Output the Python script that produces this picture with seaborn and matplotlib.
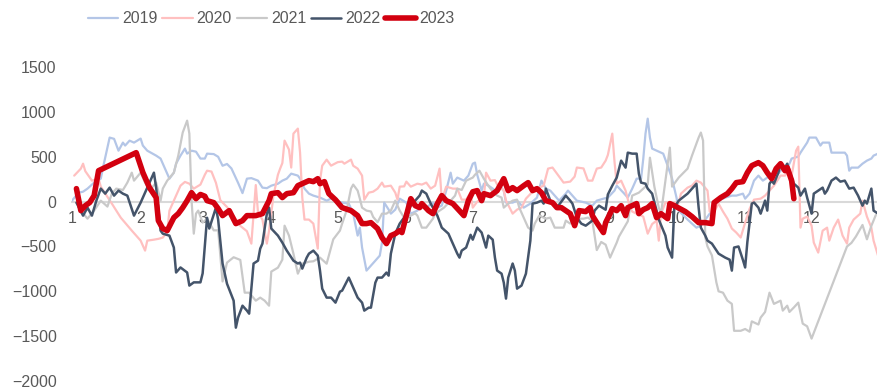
import matplotlib
matplotlib.use('Agg')
import matplotlib.pyplot as plt
import seaborn as sns

# day of year (0 = 1 Jan) and value, one pair of lists per year
days19 = [0, 3, 5, 7, 10, 13, 14, 16, 17, 19, 21, 23, 24, 26, 28, 31, 32, 34, 38, 40,
          41, 43, 44, 46, 47, 49, 51, 52, 54, 56, 58, 60, 61, 64, 66, 68, 70, 72, 75, 77,
          79, 81, 84, 86, 88, 90, 93, 95, 97, 99, 102, 103, 105, 107, 109, 112, 115, 117, 119, 122,
          125, 127, 129, 130, 131, 133, 135, 137, 139, 140, 141, 143, 144, 146, 148, 151, 153, 156, 158, 160,
          163, 165, 167, 169, 171, 172, 174, 177, 179, 181, 182, 183, 185, 186, 188, 190, 192, 193, 195, 196,
          199, 201, 204, 207, 210, 212, 214, 216, 218, 220, 223, 224, 226, 228, 232, 235, 237, 240, 242, 245,
          246, 249, 251, 253, 255, 257, 258, 259, 260, 261, 262, 265, 267, 269, 271, 273, 274, 278, 280, 282,
          284, 286, 288, 290, 292, 295, 298, 300, 303, 304, 306, 308, 310, 312, 314, 316, 319, 320, 323, 324,
          325, 328, 329, 332, 333, 336, 338, 339, 342, 343, 346, 349, 350, 351, 352, 355, 357, 359, 361, 362,
          364]
vals19 = [11, 100, 111, 145, 212, 256, 379, 602, 714, 700, 568, 658, 625, 680, 658, 703, 625, 568, 513, 480,
          424, 312, 256, 323, 424, 513, 591, 535, 568, 557, 480, 480, 535, 530, 500, 400, 420, 370, 210, 95,
          256, 262, 234, 156, 150, 178, 200, 234, 256, 312, 290, 256, 145, 89, 67, 45, 11, 33, 11, -11,
          -22, -134, -379, -290, -512, -769, -714, -658, -602, -457, -11, -89, -134, -89, 33, -11, -134, -100, -22, -67,
          -11, -67, -45, 123, 323, 200, 268, 234, 290, 423, 435, 300, 123, 200, 180, 145, 111, 190, 120, -11,
          -11, 11, -67, -22, 45, 234, 145, 123, 67, 11, 89, 123, 67, 11, -11, -45, 11, 33, 45, 123,
          178, 100, 45, 145, 256, 256, 480, 758, 925, 714, 591, 557, 535, 401, 256, 45, -100, -200, -245, -290,
          -268, -200, -134, -89, 11, 45, 67, 67, 89, 33, 89, 234, 290, 234, 268, 290, 312, 345, 379, 423,
          480, 502, 546, 658, 714, 714, 625, 658, 658, 546, 546, 546, 513, 345, 379, 379, 423, 457, 480, 513,
          535]

days20 = [1, 4, 5, 6, 9, 12, 13, 18, 22, 27, 31, 33, 34, 37, 39, 41, 43, 44, 46, 49,
          51, 53, 55, 58, 60, 61, 63, 65, 67, 70, 73, 76, 79, 81, 83, 84, 86, 88, 89, 91,
          93, 94, 95, 96, 98, 99, 100, 102, 103, 104, 105, 107, 109, 111, 112, 113, 115, 117, 120, 122,
          123, 126, 127, 129, 131, 132, 134, 136, 138, 140, 141, 144, 146, 147, 148, 150, 151, 153, 156, 158,
          160, 162, 164, 166, 167, 169, 172, 174, 176, 178, 180, 181, 183, 186, 187, 189, 191, 192, 195, 196,
          199, 201, 203, 205, 208, 210, 213, 215, 217, 219, 222, 225, 227, 228, 231, 233, 235, 237, 239, 241,
          242, 244, 245, 246, 248, 250, 252, 253, 255, 258, 260, 262, 264, 265, 266, 268, 272, 274, 275, 278,
          280, 282, 284, 287, 288, 290, 292, 294, 296, 298, 300, 302, 304, 306, 308, 311, 313, 317, 320, 322,
          324, 325, 327, 328, 329, 330, 332, 334, 335, 337, 339, 341, 342, 344, 346, 348, 350, 351, 353, 356,
          357, 359, 361, 362, 364]
vals20 = [290, 368, 423, 340, 234, 256, 167, -22, -178, -323, -435, -546, -435, -424, -415, -401, -340, -100, 11, 178,
          220, 200, 145, 190, 300, 345, 335, 210, 15, -60, -160, -270, -330, -468, 185, -120, -200, -468, -323, 70,
          300, 368, 430, 680, 580, 380, 758, 814, 546, 45, -200, -200, -245, -524, 234, 401, 468, 401, 440, 446,
          423, 468, 400, 368, 290, 22, 100, 111, 145, 212, 167, 178, 100, 22, 167, 170, 223, 167, 200, 190,
          212, 145, 178, 368, 22, 167, 145, 145, 22, 22, 100, -67, 0, 45, 323, 234, 240, 190, 123, 11,
          -134, -89, -67, 33, 111, 145, 178, 368, 380, 312, 212, 223, 279, 380, 370, 234, 234, 368, 380, 457,
          520, 758, 446, 200, 234, 123, -67, -111, -134, -167, -357, -250, -212, -435, -134, -11, -11, -11, 89, 156,
          178, 234, 212, 123, -111, -111, -22, -111, -190, -300, -345, -400, -234, -80, 22, 33, 67, 178, 290, 290,
          368, 290, 568, 613, -290, -190, -167, -268, -457, -568, -324, -290, -435, -290, -200, -379, -468, -290, -200, -134,
          11, -167, -290, -435, -600]

days21 = [3, 6, 7, 10, 13, 16, 18, 20, 23, 25, 27, 28, 31, 33, 35, 38, 40, 41, 43, 46,
          48, 50, 52, 53, 54, 55, 56, 57, 59, 61, 64, 66, 68, 70, 73, 76, 78, 80, 83, 85,
          87, 89, 90, 93, 95, 96, 98, 100, 102, 104, 107, 109, 112, 115, 118, 121, 122, 124, 126, 127,
          129, 130, 131, 133, 135, 136, 138, 140, 142, 144, 146, 148, 150, 153, 155, 156, 158, 160, 163, 164,
          166, 168, 171, 173, 174, 176, 178, 181, 182, 184, 186, 188, 190, 192, 194, 195, 197, 199, 201, 202,
          204, 206, 208, 209, 211, 214, 216, 218, 220, 222, 223, 225, 226, 228, 231, 233, 235, 237, 239, 241,
          243, 246, 247, 251, 253, 256, 260, 261, 263, 265, 266, 268, 270, 271, 274, 278, 280, 283, 284, 285,
          286, 287, 289, 291, 292, 294, 296, 298, 299, 302, 304, 306, 307, 310, 311, 313, 315, 317, 320, 321,
          323, 324, 326, 328, 330, 332, 334, 350, 352, 354, 357, 359, 361, 363]
vals21 = [-60, -160, -190, -100, 11, -55, 89, 145, 130, 212, 323, 234, 323, 212, 123, 212, 11, 145, 234, 323,
          513, 770, 903, 758, 11, -357, -134, -100, -234, -190, -320, -320, -890, -680, -620, -650, -1015, -1015, -1104, -1070,
          -1104, -1160, -780, -736, -647, -268, -379, -580, -803, -692, -670, -665, -624, -692, -420, -323, -245, -100, 145, 190,
          123, 33, -67, -100, -110, -170, -230, -134, -134, -100, 11, -100, -178, -156, -130, -156, -290, -290, -190, -134,
          -100, -67, 11, 67, 145, 130, 234, 268, 300, 345, 256, 178, 111, 67, 45, -67, -22, 11, 22, -67,
          -178, -290, -323, -245, -156, -190, -178, -290, -290, -290, -212, -245, -212, -190, -190, -178, -212, -540, -450, -480,
          -624, -457, -390, -220, 67, 100, 190, 490, 167, -67, -134, 234, 602, 167, 268, 368, 513, 714, 770, 680,
          -401, -500, -600, -900, -1000, -1015, -1104, -1140, -1440, -1440, -1420, -1450, -1335, -1370, -1293, -1230, -1015, -1140, -1104, -1215,
          -1160, -1230, -1180, -1126, -1360, -1390, -1527, -500, -460, -390, -260, -420, -270, -150]

days22 = [2, 5, 7, 9, 11, 13, 15, 17, 19, 21, 23, 25, 28, 31, 34, 37, 38, 40, 41, 44,
          46, 47, 49, 52, 53, 55, 58, 59, 61, 62, 65, 66, 68, 70, 73, 74, 75, 77, 79, 80,
          82, 84, 85, 86, 88, 89, 90, 93, 95, 97, 100, 102, 103, 104, 106, 107, 109, 111, 112, 113,
          115, 117, 119, 121, 122, 125, 127, 129, 131, 132, 134, 135, 137, 138, 140, 142, 143, 144, 146, 148,
          150, 153, 155, 157, 158, 160, 162, 165, 167, 170, 172, 174, 175, 176, 178, 180, 181, 183, 185, 187,
          188, 190, 191, 192, 194, 195, 196, 197, 199, 200, 201, 203, 205, 207, 208, 210, 212, 213, 214, 216,
          218, 219, 222, 223, 225, 226, 228, 230, 232, 235, 236, 238, 241, 242, 244, 246, 248, 250, 251, 253,
          255, 256, 257, 259, 260, 262, 264, 265, 268, 269, 271, 272, 274, 278, 280, 282, 283, 284, 286, 287,
          289, 292, 295, 297, 298, 299, 301, 303, 304, 305, 307, 308, 310, 311, 313, 314, 315, 316, 317, 319,
          320, 322, 323, 325, 326, 328, 329, 331, 332, 334, 335, 337, 339, 340, 341, 343, 345, 347, 349, 351,
          353, 355, 357, 358, 359, 361, 362, 364]
vals22 = [-11, -156, -67, -156, 11, 145, 89, 156, 67, 123, 89, 67, -156, -11, 156, 323, 156, -323, -357, -379,
          -512, -790, -734, -790, -936, -900, -900, -800, -180, -300, -67, -200, -690, -915, -1104, -1405, -1293, -1160, -1215, -1249,
          -690, -658, -524, -468, -134, -67, -300, -379, -457, -546, -658, -690, -680, -747, -624, -580, -546, -602, -769, -970,
          -1070, -1070, -1126, -1004, -992, -847, -959, -1070, -1126, -1215, -1182, -1182, -903, -847, -847, -791, -825, -580, -357, -245,
          -178, -45, 11, 67, 123, 89, -22, -156, -290, -357, -468, -580, -624, -546, -512, -370, -424, -290, -345, -512,
          -379, -424, -624, -769, -803, -903, -1081, -847, -690, -769, -970, -936, -803, -435, -22, -11, 11, -22, 145, 11,
          -22, -67, 33, 67, 11, -22, -178, -245, -268, -212, -100, -45, -90, 80, 178, 268, 457, 379, 546, 535,
          535, 312, 212, 200, 145, 89, -100, -200, -379, -512, -624, -67, 11, 89, 145, 200, -67, -290, -379, -435,
          -468, -580, -624, -647, -769, -512, -500, -650, -734, -450, -22, -10, -67, -134, 11, -100, 200, 234, 200, 323,
          423, 379, 423, 268, 200, 156, 67, 145, 45, -134, 89, 123, 156, 89, 123, 234, 268, 223, 234, 145,
          156, 67, -45, 11, -22, 145, -100, -134]

days23 = [2, 4, 6, 8, 10, 12, 29, 32, 35, 38, 39, 41, 43, 46, 48, 50, 52, 54, 56, 58,
          60, 61, 64, 66, 68, 71, 74, 77, 79, 83, 86, 89, 90, 93, 95, 97, 100, 102, 104, 107,
          109, 111, 112, 114, 116, 119, 122, 126, 129, 131, 133, 135, 138, 140, 142, 144, 146, 148, 149, 151,
          153, 155, 157, 158, 161, 163, 165, 167, 169, 172, 177, 179, 181, 183, 185, 186, 189, 192, 195, 197,
          199, 201, 204, 206, 208, 210, 212, 214, 217, 219, 221, 223, 225, 227, 229, 232, 234, 235, 237, 240,
          241, 243, 244, 246, 248, 250, 251, 253, 255, 256, 258, 260, 262, 264, 266, 269, 270, 272, 277, 280,
          283, 286, 289, 290, 293, 296, 298, 300, 303, 305, 307, 310, 312, 314, 316, 318, 320, 322, 323, 325,
          326]
vals23 = [145, -100, -45, -10, 67, 345, 546, 325, 156, 45, -212, -300, -323, -178, -134, -67, 11, 100, 33, 80,
          60, 11, -11, -78, -156, -100, -245, -212, -156, -156, -134, 11, 89, 100, 45, 89, 100, 178, 200, 234,
          223, 256, 200, 223, 89, 20, -67, -100, -156, -245, -245, -234, -301, -401, -468, -379, -357, -323, -345, -156,
          33, -45, -67, -22, -100, -134, -22, 67, 11, -22, -156, 11, 110, 123, 11, 89, 67, 123, 256, 123,
          156, 123, 178, 212, 123, 145, 100, 11, -11, -67, -67, -100, -134, -268, -100, -111, -67, -156, -234, -345,
          -234, -134, -78, -100, -45, -156, -67, -45, -22, -134, -89, -67, -22, -178, -134, -190, -22, -45, -111, -167,
          -234, -234, -245, -11, 45, 89, 145, 212, 223, 323, 401, 435, 401, 323, 256, 368, 423, 345, 379, 234,
          33]

years = ['2019', '2020', '2021', '2022', '2023']
month_starts = [0, 31, 59, 90, 120, 151, 181, 212, 243, 273, 304, 334]
month_labels = ['1', '2', '3', '4', '5', '6', '7', '8', '9', '10', '11', '12']

series = [(days19, vals19), (days20, vals20), (days21, vals21), (days22, vals22), (days23, vals23)]
colors = ['#b4c6e7', '#ffc0c0', '#c9c9c9', '#44546a', '#d2000f']
widths = [1.6, 1.6, 1.6, 1.8, 4.0]

sns.set_style('white')
plt.rcParams['font.family'] = ['Liberation Sans', 'DejaVu Sans']

fig = plt.figure(figsize=(8.78, 3.9), dpi=100)
ax = fig.add_axes([0.082, 0.023, 0.918, 0.805])

for yr, (d, v), c, w in zip(years, series, colors, widths):
    sns.lineplot(x=d, y=v, ax=ax, color=c, linewidth=w, label=yr,
                 estimator=None, sort=False, solid_joinstyle='round')

ax.set_xlim(0, 364)
ax.set_ylim(-2000, 1500)
ax.set_xticks(month_starts, month_labels)
ax.set_yticks(range(-2000, 1501, 500))
ax.set_xlabel('')
ax.set_ylabel('')

for s in ['top', 'right', 'left']:
    ax.spines[s].set_visible(False)
ax.spines['bottom'].set_position(('data', 0))
ax.spines['bottom'].set_color('#d9d9d9')
ax.spines['bottom'].set_linewidth(1.5)
ax.spines['bottom'].set_zorder(1)

ax.tick_params(axis='both', length=0, labelsize=11.5, labelcolor='#595959')
ax.tick_params(axis='x', pad=7)
ax.tick_params(axis='y', pad=11)

ax.legend(loc='center', bbox_to_anchor=(0.309, 0.952), bbox_transform=fig.transFigure,
          ncol=5, frameon=False, handlelength=1.9, handletextpad=0.25, columnspacing=0.3,
          labelcolor='#595959', fontsize=11.5)

fig.savefig('out.png', dpi=100)
